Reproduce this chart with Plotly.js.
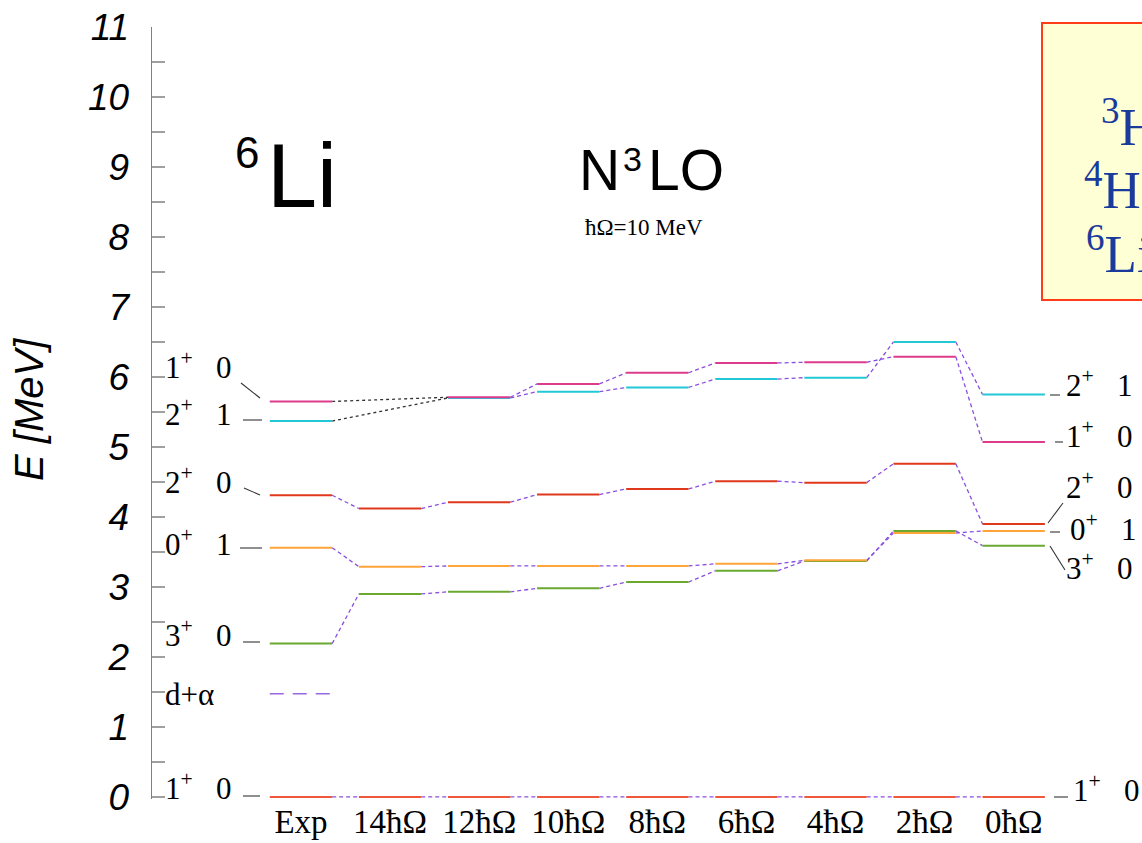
<!DOCTYPE html>
<html>
<head>
<meta charset="utf-8">
<script src="https://cdn.plot.ly/plotly-3.0.1.min.js"></script>
<style>html,body{margin:0;padding:0;background:#fff;}#chart{width:1142px;height:843px;}</style>
</head>
<body>
<div id="chart"></div>
<script>
// ---------------- data ----------------
const categories = ['Exp', '14ħΩ', '12ħΩ', '10ħΩ', '8ħΩ', '6ħΩ', '4ħΩ', '2ħΩ', '0ħΩ'];
// excitation energies [MeV] per column (null = not computed)
const E_1p_0 = [5.65, null, 5.71, 5.90, 6.06, 6.20, 6.21, 6.29, 5.07];
const E_2p_1 = [5.37, null, 5.70, 5.79, 5.85, 5.97, 5.99, 6.50, 5.75];
const E_2p_0 = [4.31, 4.12, 4.21, 4.32, 4.40, 4.51, 4.49, 4.76, 3.90];
const E_0p_1 = [3.56, 3.29, 3.30, 3.30, 3.30, 3.33, 3.38, 3.77, 3.80];
const E_3p_0 = [2.19, 2.90, 2.93, 2.98, 3.07, 3.23, 3.37, 3.80, 3.59];
const E_gs   = [0, 0, 0, 0, 0, 0, 0, 0, 0];
const E_dalpha = [1.474];          // d+alpha threshold, Exp column only
const yTicks = [0, 1, 2, 3, 4, 5, 6, 7, 8, 9, 10, 11];

// ---------------- styles ----------------
const HW = 0.35;                   // half width of a level bar (x units)
const CONN = '#8a4fe0';
const series = [
  {E: E_gs,   color: '#f0583c'},
  {E: E_3p_0, color: '#6aa830'},
  {E: E_0p_1, color: '#ffa53a'},
  {E: E_2p_0, color: '#e0381c'},
  {E: E_2p_1, color: '#22c8d6'},
  {E: E_1p_0, color: '#dd3b8c'}
];

const xs = categories.map((c, i) => i);
const traces = [];
series.forEach(s => {
  const cx = [], cy = [], gx = [], gy = [];
  for (let i = 0; i < s.E.length; i++) {
    if (s.E[i] === null) continue;
    let j = i + 1;
    while (j < s.E.length && s.E[j] === null) j++;
    if (j >= s.E.length) break;
    const tx = (j === i + 1) ? cx : gx, ty = (j === i + 1) ? cy : gy;
    tx.push(xs[i] + HW, xs[j] - HW, null);
    ty.push(s.E[i], s.E[j], null);
  }
  traces.push({x: cx, y: cy, type: 'scatter', mode: 'lines', hoverinfo: 'skip',
    line: {color: CONN, width: 1.3, dash: '4px,3px'}, showlegend: false});
  if (gx.length) traces.push({x: gx, y: gy, type: 'scatter', mode: 'lines', hoverinfo: 'skip',
    line: {color: '#333333', width: 1.3, dash: '3px,3px'}, showlegend: false});
});
series.forEach(s => {
  const lx = [], ly = [];
  s.E.forEach((v, i) => {
    if (v === null) return;
    lx.push(xs[i] - HW, xs[i] + HW, null);
    ly.push(v, v, null);
  });
  traces.push({x: lx, y: ly, type: 'scatter', mode: 'lines', hoverinfo: 'skip',
    line: {color: s.color, width: 2}, showlegend: false});
});
traces.push({x: [xs[0] - HW, xs[0] + HW], y: [E_dalpha[0], E_dalpha[0]], type: 'scatter', mode: 'lines',
  hoverinfo: 'skip', line: {color: '#9a66e0', width: 1.5, dash: '14px,9px'}, showlegend: false});

// ---------------- layout helpers (pixel -> paper) ----------------
const ML = 152, MR = 0, MT = 27, MB = 44, W = 1142, H = 843;
const PW = W - ML - MR, PH = H - MT - MB;
const px = v => (v - ML) / PW;
const py = v => (H - MB - v) / PH;

const serif = 'Liberation Serif, Times New Roman, serif';
const sans = 'Liberation Sans, Arial, sans-serif';
const ann = [];
function txt(text, x, y, size, opts) {
  ann.push(Object.assign({text: text, xref: 'paper', yref: 'paper', x: px(x), y: py(y),
    xanchor: 'left', yanchor: 'middle', showarrow: false, borderpad: 0,
    font: {family: serif, size: size, color: '#000'}}, opts || {}));
}
const SP = '\u00a0\u00a0\u00a0';
const lab = (j, t) => j + '<sup>+</sup>' + SP + t;
// left labels
txt(lab(1, 0), 164, 365, 31);
txt(lab(2, 1), 164, 412, 31);
txt(lab(2, 0), 164, 480, 31);
txt(lab(0, 1), 164, 542, 31);
txt(lab(3, 0), 164, 633, 31);
txt('d+α', 164, 694, 31);
txt(lab(1, 0), 164, 786, 31);
// right labels
txt(lab(2, 1), 1065, 383, 31);
txt(lab(1, 0), 1065, 434, 31);
txt(lab(2, 0), 1065, 485, 31);
txt(lab(0, 1), 1069, 527, 31);
txt(lab(3, 0), 1065, 566, 31);
txt(lab(1, 0), 1072, 788, 31);
// titles
txt('6', 234, 152.5, 44, {font: {family: sans, size: 44, color: '#000'}});
txt('Li', 266, 176, 90, {font: {family: sans, size: 90, color: '#000'}});
txt('N', 578, 170, 57, {font: {family: sans, size: 57, color: '#000'}});
txt('3', 622, 159, 34, {font: {family: sans, size: 34, color: '#000'}});
txt('LO', 647, 170, 57, {font: {family: sans, size: 57, color: '#000'}});
txt('ħΩ=10 MeV', 644, 227, 23, {xanchor: 'center'});
// box text
const blue = {family: serif, size: 53, color: '#1a3a9c'};
txt('<sup>3</sup>H', 1100, 123, 53, {font: blue});
txt('<sup>4</sup>He', 1083, 186, 53, {font: blue});
txt('<sup>6</sup>Li', 1085, 250, 53, {font: blue});
// y title
ann.push({text: 'E [MeV]', xref: 'paper', yref: 'paper', x: px(29), y: py(410), textangle: -90,
  xanchor: 'center', yanchor: 'middle', showarrow: false,
  font: {family: sans, size: 40, style: 'italic', color: '#000'}});

const shapes = [];
function seg(x0, y0, x1, y1) {
  shapes.push({type: 'line', xref: 'paper', yref: 'paper', x0: px(x0), y0: py(y0), x1: px(x1), y1: py(y1),
    line: {color: '#333', width: 1.1}});
}
// left leaders
seg(241, 383, 260, 398);
seg(243, 420, 262, 420);
seg(244, 488, 260, 495);
seg(240, 548, 262, 548);
seg(243, 642, 260, 642);
seg(243, 796, 260, 796);
// right leaders
seg(1050, 395, 1060, 395);
seg(1055, 442, 1063, 442);
seg(1063, 503, 1048, 523);
seg(1050, 532, 1060, 532);
seg(1050, 546, 1065, 570);
seg(1054, 797, 1068, 797);
// yellow box
shapes.push({type: 'rect', xref: 'paper', yref: 'paper', x0: px(1042), x1: px(1170), y0: py(300), y1: py(23),
  line: {color: '#ff3b1a', width: 2}, fillcolor: '#ffffd6', layer: 'below'});

const layout = {
  width: W, height: H,
  margin: {l: ML, r: MR, t: MT, b: MB, pad: 0},
  paper_bgcolor: '#fff', plot_bgcolor: 'rgba(0,0,0,0)',
  showlegend: false,
  xaxis: {range: [-1.672, 9.44], tickvals: xs, ticktext: categories, showgrid: false, zeroline: false,
    showline: false, ticks: '', ticklabelstandoff: 0,
    tickfont: {family: serif, size: 33, color: '#000'}},
  yaxis: {range: [-0.03, 11], tickvals: yTicks, showgrid: false, zeroline: false,
    showline: true, linecolor: '#808080', linewidth: 1.5,
    ticks: 'inside', ticklen: 13, tickwidth: 1.3, tickcolor: '#a0a0a0', ticklabelstandoff: 14,
    minor: {dtick: 0.5, tick0: 0, ticks: 'inside', ticklen: 13, tickwidth: 1.3, tickcolor: '#a0a0a0', showgrid: false},
    tickfont: {family: sans, size: 37, style: 'italic', color: '#000'}},
  annotations: ann,
  shapes: shapes
};
Plotly.newPlot('chart', traces, layout, {displayModeBar: false, staticPlot: true});
</script>
</body>
</html>
